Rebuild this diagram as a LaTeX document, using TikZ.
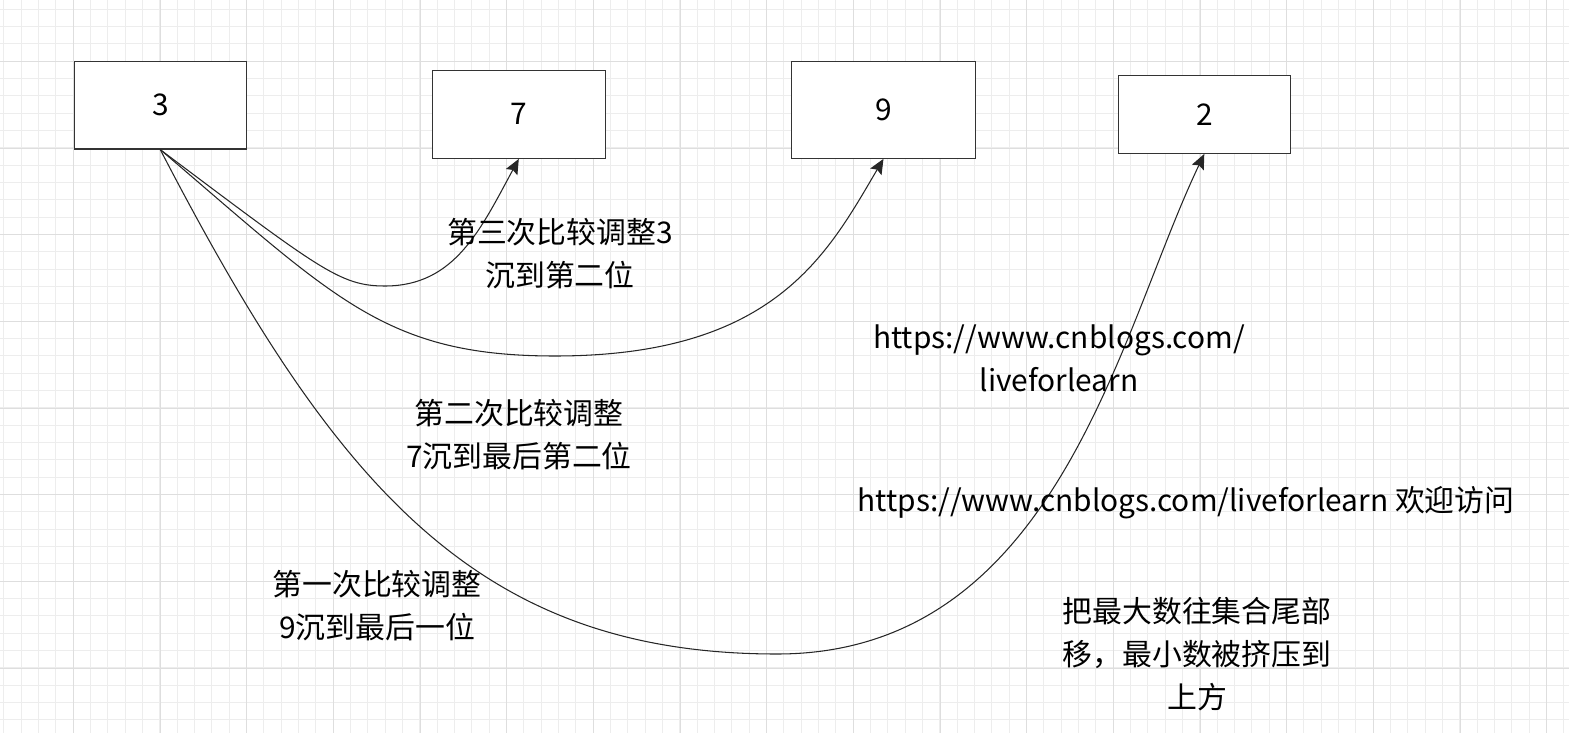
\documentclass[tikz,border=0pt]{standalone}
\usepackage{fontspec}
\setmainfont{Noto Sans CJK SC}
\usetikzlibrary{arrows.meta}
\definecolor{gridminor}{HTML}{EDEDED}
\definecolor{gridmajor}{HTML}{DEDEDE}
\definecolor{boxline}{HTML}{333333}
\tikzset{
	numbox/.style={draw=boxline, line width=0.7pt, fill=white, inner sep=0pt, font=\fontsize{17pt}{20pt}\selectfont},
	lbl/.style={align=center, inner sep=0pt, font=\fontsize{17pt}{24.5pt}\selectfont},
	link/.style={line width=0.6pt, draw=black!85, -{Stealth[length=0.3cm, width=0.26cm, inset=0.05cm]}}
}
\begin{document}
\begin{tikzpicture}[x=0.02cm, y=-0.02cm]
		\useasboundingbox (0,0) rectangle (1569,733);
		\foreach \i in {0,...,90}{
			\draw[gridminor, line width=0.45pt] ({3.6+17.333*\i},0) -- ++(0,733);
		}
		\foreach \i in {0,...,42}{
			\draw[gridminor, line width=0.45pt] (0,{9+17.333*\i}) -- ++(1569,0);
		}
		\foreach \i in {0,...,17}{
			\draw[gridmajor, line width=0.5pt] ({73.3+86.667*\i},0) -- ++(0,733);
		}
		\foreach \i in {0,...,7}{
			\draw[gridmajor, line width=0.5pt] (0,{61.3+86.667*\i}) -- ++(1569,0);
		}

		\node[numbox, minimum width=3.44cm, minimum height=1.75cm] (n3) at (160.3,105.3) {3};
		\node[numbox, minimum width=3.46cm, minimum height=1.76cm] (n7) at (518.8,114.3) {7};
		\node[numbox, minimum width=3.67cm, minimum height=1.93cm] (n9) at (883.5,110) {9};
		\node[numbox, minimum width=3.44cm, minimum height=1.56cm] (n2) at (1204.3,114.3) {2};

		\coordinate (bend7) at (385,286);
		\coordinate (bend9) at (555,356);
		\coordinate (bend2) at (777,654);

		\draw[link] (n3.south) .. controls +(160,120) and +(-45,0) .. (bend7)
			.. controls +(70,0) and +(-38,70) .. (n7.south);
		\draw[link] (n3.south) .. controls +(175,149) and +(-170,0) .. (bend9)
			.. controls +(220,0) and +(-56,95) .. (n9.south);
		\draw[link] (n3.south) .. controls +(175,337) and +(-300,0) .. (bend2)
			.. controls +(280,0) and +(-86,180) .. (n2.south);

		\node[lbl] (third) at (560,254) {第三次比较调整3\\沉到第二位};
		\node[lbl] (second) at (519,435) {第二次比较调整\\7沉到最后第二位};
		\node[lbl] (first) at (377,606) {第一次比较调整\\9沉到最后一位};
		\node[lbl] (url) at (1059,358) {https://www.cnblogs.com/\\liveforlearn};
		\node[lbl] (welcome) at (1186,503) {https://www.cnblogs.com/liveforlearn 欢迎访问};
		\node[lbl] (note) at (1197,654) {把最大数往集合尾部\\移，最小数被挤压到\\上方};
	\end{tikzpicture}
\end{document}
